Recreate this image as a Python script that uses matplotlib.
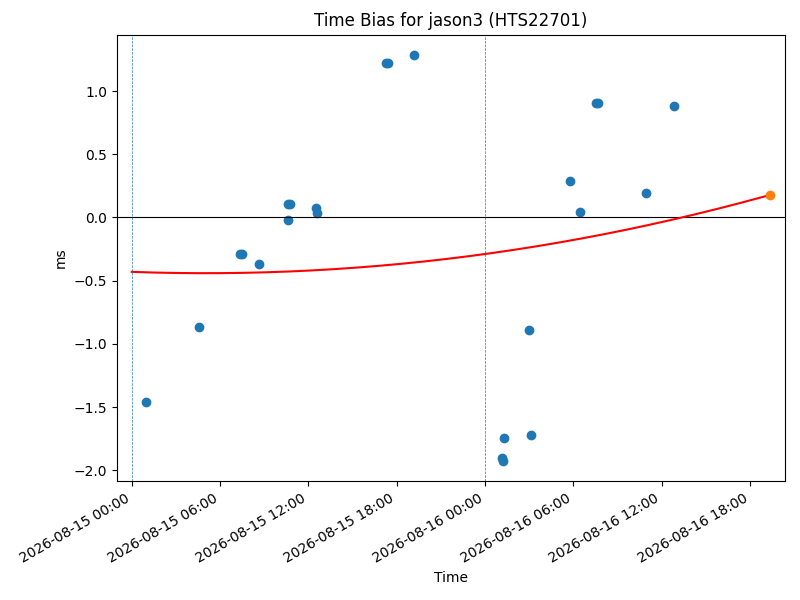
import numpy as np
import pandas as pd
import matplotlib
matplotlib.use("Agg")
import matplotlib.pyplot as plt
import matplotlib.dates as mdates

# measured time bias points
times = ["2026-08-15 00:58", "2026-08-15 04:34", "2026-08-15 07:21",
         "2026-08-15 07:30", "2026-08-15 08:39", "2026-08-15 10:37",
         "2026-08-15 10:46", "2026-08-15 10:38", "2026-08-15 12:30",
         "2026-08-15 12:36", "2026-08-15 17:15", "2026-08-15 17:24",
         "2026-08-15 19:11", "2026-08-16 01:08", "2026-08-16 01:14",
         "2026-08-16 01:18", "2026-08-16 03:00", "2026-08-16 03:06",
         "2026-08-16 05:48", "2026-08-16 06:28", "2026-08-16 07:33",
         "2026-08-16 07:42", "2026-08-16 10:58", "2026-08-16 12:52"]
bias_ms = [-1.463, -0.865, -0.289, -0.289, -0.371, 0.107,
           0.107, -0.017, 0.075, 0.033, 1.221, 1.221,
           1.284, -1.899, -1.925, -1.746, -0.893, -1.724,
           0.287, 0.044, 0.907, 0.907, 0.192, 0.880]

# predicted point and quadratic fit (coefficients in hours since fit_start)
pred_time = "2026-08-16 19:22"
pred_bias = 0.178
fit_start = "2026-08-15 00:00"
fit_coef = [0.000421, -0.00423, -0.43]

day_marks = ["2026-08-15 00:00", "2026-08-16 00:00"]
xlim = ["2026-08-14 22:59", "2026-08-16 20:22"]

t = pd.to_datetime(times)
t0 = pd.Timestamp(fit_start)
tp = pd.Timestamp(pred_time)

fig, ax = plt.subplots(figsize=(8, 6), dpi=100)
ax.scatter(t, bias_ms, color="C0")
ax.axhline(0, color="black", lw=0.8)
for d in day_marks:
    ax.axvline(pd.Timestamp(d), color="C0", ls="--", lw=0.5)

# fit curve from start to prediction
ft = pd.date_range(t0, tp, periods=200)
hrs = (ft - t0).total_seconds() / 3600.0
ax.plot(ft, np.polyval(fit_coef, hrs), color="red", lw=1.5)
ax.scatter([tp], [pred_bias], color="C1", zorder=3)

ax.set_xlim(pd.Timestamp(xlim[0]), pd.Timestamp(xlim[1]))
ax.xaxis.set_major_locator(mdates.HourLocator(byhour=range(0, 24, 6)))
ax.xaxis.set_major_formatter(mdates.DateFormatter("%Y-%m-%d %H:%M"))
ax.set_title("Time Bias for jason3 (HTS22701)")
ax.set_xlabel("Time")
ax.set_ylabel("ms")
fig.autofmt_xdate()
plt.subplots_adjust(left=0.146, right=0.981, top=0.942, bottom=0.198)
fig.savefig("out.png")
